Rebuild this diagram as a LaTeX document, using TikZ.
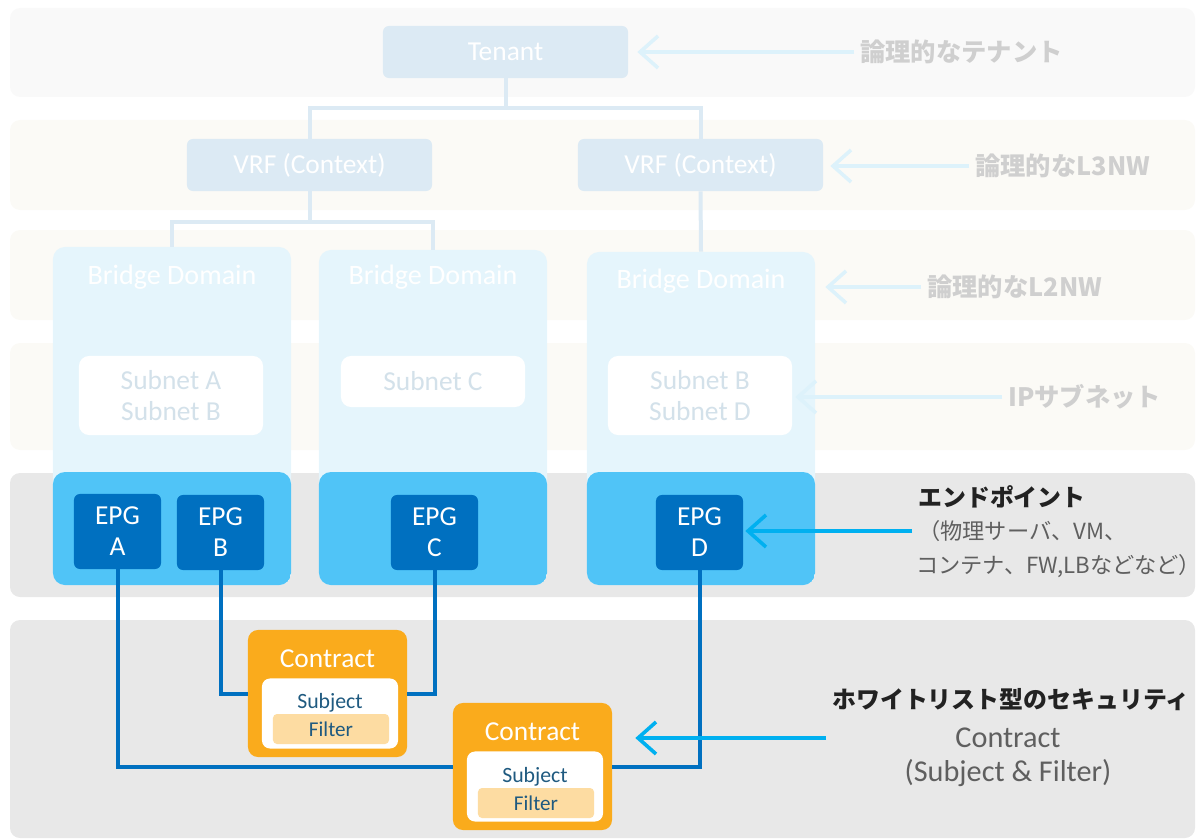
\documentclass[tikz,border=0pt]{standalone}
\usepackage{fontspec}
\setmainfont{Carlito}
\newfontfamily\jpfont{Noto Sans CJK JP}
\usetikzlibrary{arrows.meta,positioning,calc}
\definecolor{BandGray}{HTML}{F9F9F9}
\definecolor{BandCream}{HTML}{FBFAF6}
\definecolor{BandDark}{HTML}{E8E8E8}
\definecolor{TreeBlue}{HTML}{DCEAF4}
\definecolor{BDLight}{HTML}{E5F5FC}
\definecolor{BDDeep}{HTML}{50C4F7}
\definecolor{EPGBlue}{HTML}{0070C0}
\definecolor{ContractOrange}{HTML}{FAAB1C}
\definecolor{FilterCream}{HTML}{FDDCA2}
\definecolor{SubjectBlue}{HTML}{1F5A80}
\definecolor{SubnetText}{HTML}{D3E1EA}
\definecolor{FadeText}{HTML}{CFCFCF}
\definecolor{FadeArrow}{HTML}{DDF2FB}
\definecolor{PointBlue}{HTML}{00B0F0}
\definecolor{NoteGray}{HTML}{5F5F5F}
\definecolor{NoteBlack}{HTML}{222222}
\tikzset{
  band/.style={rounded corners=2.5mm},
  treenode/.style={fill=TreeBlue,rounded corners=1.5mm,minimum width=6.125cm,minimum height=1.3cm,text=white,font=\fontsize{19.5}{23}\selectfont},
  treeline/.style={draw=TreeBlue,line width=1mm},
  bdnode/.style={fill=BDLight,rounded corners=3mm,minimum width=5.7cm,path picture={\fill[BDDeep] (path picture bounding box.south west) rectangle ([yshift=2.825cm]path picture bounding box.south east);}},
  bdtitle/.style={text=white,font=\fontsize{20}{24}\selectfont},
  subnetnode/.style={fill=white,rounded corners=2.5mm,minimum width=4.6cm,text=SubnetText,align=center,font=\fontsize{19.5}{22}\selectfont},
  epgnode/.style={fill=EPGBlue,rounded corners=1.5mm,minimum width=2.175cm,minimum height=1.875cm,text=white,align=center,font=\fontsize{19.5}{22}\selectfont},
  epgline/.style={draw=EPGBlue,line width=1mm},
  contractnode/.style={fill=ContractOrange,rounded corners=2.5mm,minimum width=3.975cm,minimum height=3.175cm},
  contitle/.style={text=white,font=\fontsize{19.5}{22}\selectfont},
  subjectbox/.style={fill=white,rounded corners=2mm,minimum width=3.4cm,minimum height=1.75cm},
  subjecttext/.style={text=SubjectBlue,font=\fontsize{15.5}{18}\selectfont},
  filterbox/.style={fill=FilterCream,rounded corners=1mm,minimum width=2.9cm,minimum height=0.75cm,text=SubjectBlue,font=\fontsize{15}{18}\selectfont},
  fadelabel/.style={text=FadeText,inner sep=0,anchor=west,font=\jpfont\bfseries\fontsize{18}{22}\selectfont},
  fadearrow/.style={draw=FadeArrow,line width=0.09cm,-{Straight Barb[length=4.5mm,width=8mm]},shorten <=0.15cm},
  pointarrow/.style={draw=PointBlue,line width=0.09cm,-{Straight Barb[length=4.5mm,width=8mm]},shorten <=0.15cm},
  notehead/.style={text=NoteBlack,inner sep=0,font=\jpfont\bfseries\fontsize{17}{20}\selectfont},
  noteline/.style={text=NoteGray,inner sep=0,font=\jpfont\fontsize{15.8}{20}\selectfont},
  notelatin/.style={text=NoteGray,inner sep=0,font=\fontsize{21.5}{26}\selectfont}
}
\begin{document}
\begin{tikzpicture}[x=0.025cm,y=-0.025cm]
\useasboundingbox (0,0) rectangle (1202,840);
% layer bands
\fill[band,BandGray] (10,8) rectangle (1195,97);
\fill[band,BandCream] (10,120) rectangle (1195,210);
\fill[band,BandCream] (10,230) rectangle (1195,320);
\fill[band,BandCream] (10,343) rectangle (1195,450);
\fill[band,BandDark] (10,473) rectangle (1195,597);
\fill[band,BandDark] (10,620) rectangle (1195,838);

% tenant and vrf
\node[treenode] (tenant) at (505.5,52) {Tenant};
\node[treenode] (vrf1) at (309.5,165) {VRF (Context)};
\node[treenode] (vrf2) at (700.5,165) {VRF (Context)};
\draw[treeline] (tenant.south) -- ++(0,30) -| (vrf1.north);
\draw[treeline] (tenant.south) -- ++(0,30) -| (vrf2.north);

% bridge domains
\node[bdnode,minimum width=5.95cm,minimum height=8.45cm] (bd1) at (172,416) {};
\node[bdnode,minimum height=8.375cm] (bd2) at (433,417.5) {};
\node[bdnode,minimum height=8.325cm] (bd3) at (701,418.5) {};
\draw[treeline] (vrf1.south) -- ++(0,31) -| (bd1.north);
\draw[treeline] (vrf1.south) -- ++(0,31) -| (bd2.north);
\draw[treeline] (vrf2.south) -- (bd3.north);
\node[bdtitle] (bd1t) at (172,277) {Bridge Domain};
\node[bdtitle] (bd2t) at (433,277) {Bridge Domain};
\node[bdtitle] (bd3t) at (701,281) {Bridge Domain};

% subnets
\node[subnetnode,minimum height=1.975cm] (sub1) at (171,395.5) {Subnet A\\Subnet B};
\node[subnetnode,minimum height=1.275cm] (sub2) at (433,381.5) {Subnet C};
\node[subnetnode,minimum height=1.975cm] (sub3) at (700,395.5) {Subnet B\\Subnet D};

% endpoint groups
\node[epgnode] (epgA) at (117.5,531.5) {EPG\\A};
\node[epgnode] (epgB) at (220.5,532.5) {EPG\\B};
\node[epgnode] (epgC) at (434.5,532.5) {EPG\\C};
\node[epgnode] (epgD) at (699.5,532.5) {EPG\\D};

% contracts
\node[contractnode] (con1) at (327.5,693.5) {};
\node[contractnode] (con2) at (532.5,766.5) {};
\draw[epgline] (epgA.south) |- (con2.west);
\draw[epgline] (epgB.south) |- (con1.west);
\draw[epgline] (epgC.south) |- (con1.east);
\draw[epgline] (epgD.south) |- (con2.east);
\node[contitle] (con1t) at ($(con1)+(0,-34.5)$) {Contract};
\node[subjectbox] (sbj1) at ($(con1)+(2.5,20)$) {};
\node[subjecttext] (sbj1t) at ($(con1)+(2.5,9.5)$) {Subject};
\node[filterbox] (flt1) at ($(con1)+(3.5,35.5)$) {Filter};
\node[contitle] (con2t) at ($(con2)+(0,-34.5)$) {Contract};
\node[subjectbox] (sbj2) at ($(con2)+(2.5,20)$) {};
\node[subjecttext] (sbj2t) at ($(con2)+(2.5,10.5)$) {Subject};
\node[filterbox] (flt2) at ($(con2)+(3.5,36.5)$) {Filter};

% labels on the right
\node[fadelabel] (lblten) at (860,52) {論理的なテナント};
\node[fadelabel] (lblL3) at (975,166) {論理的なL3NW};
\node[fadelabel] (lblL2) at (927,287) {論理的なL2NW};
\node[fadelabel] (lblip) at (1008,397) {IPサブネット};
\draw[fadearrow,shorten >=0.225cm] (lblten.west) -- (lblten.west -| tenant.east);
\draw[fadearrow,shorten >=0.175cm] (lblL3.west) -- (lblL3.west -| vrf2.east);
\draw[fadearrow,shorten >=0.25cm] (lblL2.west) -- (lblL2.west -| bd3.east);
\draw[fadearrow,shorten >=0.075cm] (lblip.west) -- (lblip.west -| sub3.east);

\node[notehead,anchor=west] (ephead) at (918,497) {エンドポイント};
\node[noteline,anchor=west] (epline1) at (918,531) {（物理サーバ、VM、};
\node[noteline,anchor=west] (epline2) at (916,566) {コンテナ、FW,LBなどなど）};
\draw[pointarrow,shorten >=0.05cm] (epline1.west) -- (epline1.west -| epgD.east);

\node[notehead,anchor=west] (sechead) at (832,700) {ホワイトリスト型のセキュリティ};
\node[notelatin] (secline1) at (1008,738) {Contract};
\node[notelatin] (secline2) at (1008,773) {(Subject \& Filter)};
\coordinate (sectail) at (sechead.west |- secline1);
\draw[pointarrow,shorten >=0.575cm] (sectail) -- (sectail -| con2.east);
\end{tikzpicture}
\end{document}
